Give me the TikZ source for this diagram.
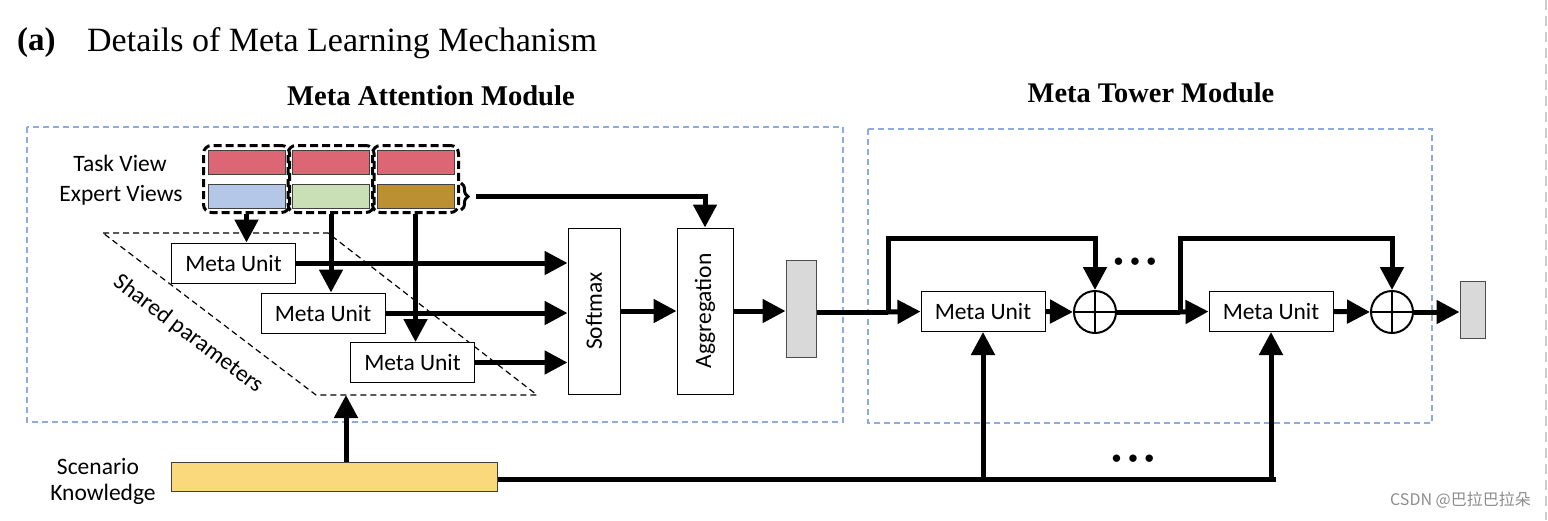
\documentclass[tikz,border=0pt]{standalone}
\usepackage{fontspec}
\setmainfont{Liberation Serif}
\newfontfamily\calfont{Carlito}
\newfontfamily\djfont{DejaVu Sans}
\newfontfamily\cjkfont{Noto Sans CJK SC}
\usetikzlibrary{arrows.meta,fit,decorations.pathreplacing}
\definecolor{taskred}{HTML}{DC6673}
\definecolor{expblue}{HTML}{B4C7E7}
\definecolor{expgreen}{HTML}{C9E0B6}
\definecolor{expgold}{HTML}{BA9033}
\definecolor{scenyellow}{HTML}{F9D97C}
\definecolor{outgray}{HTML}{D9D9D9}
\definecolor{modblue}{HTML}{8FAADC}
\begin{document}
\begin{tikzpicture}[x=1pt,y=-1pt,
  lab/.style={font=\calfont\fontsize{23.5}{28}\selectfont, inner sep=0pt},
  muBox/.style={draw, line width=1pt, minimum width=124pt, minimum height=40pt, inner sep=0pt, font=\calfont\fontsize{23.5}{28}\selectfont, fill=white},
  viewbar/.style={draw=black!75, line width=1pt, minimum width=77pt, minimum height=24pt, inner sep=0pt},
  grpbox/.style={draw, dash pattern=on 8pt off 4pt, line width=3pt, rounded corners=8pt, inner sep=4pt},
  conn/.style={line width=5pt},
  arrowline/.style={line width=5pt, -{Triangle[length=23pt,width=23pt]}},
  modbox/.style={draw=modblue, line width=1.3pt, dash pattern=on 6pt off 4pt},
  opbox/.style={draw, line width=1pt, fill=white, inner sep=0pt},
  plus/.style={circle, draw, line width=2pt, minimum size=42pt, inner sep=0pt},
  dots/.style={font=\djfont\bfseries\fontsize{21}{24}\selectfont, inner sep=0pt}
]
\useasboundingbox (0,0) rectangle (1548,520);

% page edge
\draw[black!20, line width=1.5pt, dash pattern=on 10pt off 6pt] (1546,0) -- (1546,520);

% titles
\node[anchor=base west, inner sep=0pt, font=\bfseries\fontsize{33}{38}\selectfont] (ta) at (17,50) {(a)};
\node[anchor=base west, inner sep=0pt, font=\fontsize{34}{40}\selectfont] (tt) at (87,51) {Details of Meta Learning Mechanism};
\node[anchor=base, inner sep=0pt, font=\bfseries\fontsize{28.6}{33}\selectfont] (tam) at (431,105) {Meta Attention Module};
\node[anchor=base, inner sep=0pt, font=\bfseries\fontsize{28.4}{33}\selectfont] (ttm) at (1151,102) {Meta Tower Module};

% module frames
\draw[modbox] (27,127) rectangle (843,422);
\draw[modbox] (868,129) rectangle (1432,423);

% shared parameters parallelogram
\draw[line width=1.2pt, dash pattern=on 6pt off 4pt] (103,233) -- (328,233) -- (537,395) -- (316,395) -- cycle;
\node[lab, rotate=-37] (sp) at (188,334) {Shared parameters};

% view labels
\node[lab] (tvl) at (120,163) {Task View};
\node[lab] (evl) at (121,195) {Expert Views};

% view bars
\node[viewbar, fill=taskred] (t1) at (246.5,162) {};
\node[viewbar, fill=taskred] (t2) at (331,162) {};
\node[viewbar, fill=taskred] (t3) at (415.5,162) {};
\node[viewbar, fill=expblue] (e1) at (246.5,196) {};
\node[viewbar, fill=expgreen] (e2) at (331,196) {};
\node[viewbar, fill=expgold] (e3) at (415.5,196) {};
\node[grpbox, fit=(t1)(e1)] (g1) {};
\node[grpbox, fit=(t2)(e2)] (g2) {};
\node[grpbox, fit=(t3)(e3)] (g3) {};

% brace
\draw[line width=3pt, decorate, decoration={brace, amplitude=7pt}] (461,183) -- (461,210);
\coordinate (brtip) at (476,196.5);

% meta units (attention)
\node[muBox] (mu1) at (233.5,263) {Meta Unit};
\node[muBox] (mu2) at (323,313) {Meta Unit};
\node[muBox] (mu3) at (412.5,362.5) {Meta Unit};

% softmax, aggregation
\node[opbox, minimum width=52pt, minimum height=166pt] (sm) at (594,311) {};
\node[lab, rotate=90] (smt) at (sm.center) {Softmax};
\node[opbox, minimum width=56pt, minimum height=166pt] (ag) at (705,311) {};
\node[lab, rotate=90] (agt) at (ag.center) {Aggregation};
\node[draw=black!70, line width=1pt, fill=outgray, minimum width=30pt, minimum height=97pt, inner sep=0pt] (o1) at (801,308.5) {};

% attention connectors
\draw[arrowline] (g1.south) -- (g1.south |- mu1.north);
\draw[arrowline] (g2.south) -- (g2.south |- mu2.north);
\draw[arrowline] (g3.south) -- (g3.south |- mu3.north);
\draw[arrowline] (mu1.east) -- (sm.west |- mu1.east);
\draw[arrowline] (mu2.east) -- (sm.west |- mu2.east);
\draw[arrowline] (mu3.east) -- (sm.west |- mu3.east);
\draw[arrowline] (sm.east) -- (ag.west);
\draw[arrowline] (ag.east) -- (o1.west |- ag.east);
\draw[arrowline] (brtip) -- (ag.north |- brtip) -- (ag.north);

% tower
\node[muBox] (mua) at (983,311.5) {Meta Unit};
\node[plus] (ca) at (1095,312) {};
\draw[line width=2pt] (ca.north) -- (ca.south) (ca.west) -- (ca.east);
\node[muBox] (mub) at (1271,311.5) {Meta Unit};
\node[plus] (cb) at (1392,312) {};
\draw[line width=2pt] (cb.north) -- (cb.south) (cb.west) -- (cb.east);
\node[draw=black!70, line width=1pt, fill=outgray, minimum width=25pt, minimum height=57pt, inner sep=0pt] (o2) at (1472.5,309.5) {};

\coordinate (b1) at (888,312);
\coordinate (b1t) at (888,238);
\coordinate (b2) at (1180,312);
\coordinate (b2t) at (1180,238);

\draw[conn] (o1.east |- b1) -- (b1);
\draw[arrowline] (b1) -- (mua.west);
\draw[arrowline] (b1) -- (b1t) -- (ca.north |- b1t) -- (ca.north);
\draw[arrowline] (mua.east) -- (ca.west);
\draw[conn] (ca.east) -- (b2);
\draw[arrowline] (b2) -- (mub.west);
\draw[arrowline] (b2) -- (b2t) -- (cb.north |- b2t) -- (cb.north);
\draw[arrowline] (mub.east) -- (cb.west);
\draw[arrowline] (cb.east) -- (o2.west |- cb.east);

\node[dots] (d1) at (1135,264) {•\hspace{3pt}•\hspace{3pt}•};
\node[dots] (d2) at (1133,461) {•\hspace{3pt}•\hspace{3pt}•};

% scenario knowledge
\node[lab] (skl1) at (98,466) {Scenario};
\node[lab] (skl2) at (103,494) {Knowledge};
\node[draw=black!75, line width=1pt, fill=scenyellow, minimum width=326pt, minimum height=29pt, inner sep=0pt] (sk) at (334,476.5) {};
\coordinate (pb) at (346,395);
\coordinate (kb) at (1276,479);
\draw[arrowline] (sk.north -| pb) -- (pb);
\draw[conn] (sk.east |- kb) -- (kb);
\draw[arrowline] (mua.south |- kb) -- (mua.south);
\draw[arrowline, shorten <=-2.5pt] (mub.south |- kb) -- (mub.south);

% watermark
\node[anchor=east, inner sep=0pt, text=black!45, font=\cjkfont\fontsize{16}{19}\selectfont] (wm) at (1531,500) {CSDN @巴拉巴拉朵};
\end{tikzpicture}
\end{document}
